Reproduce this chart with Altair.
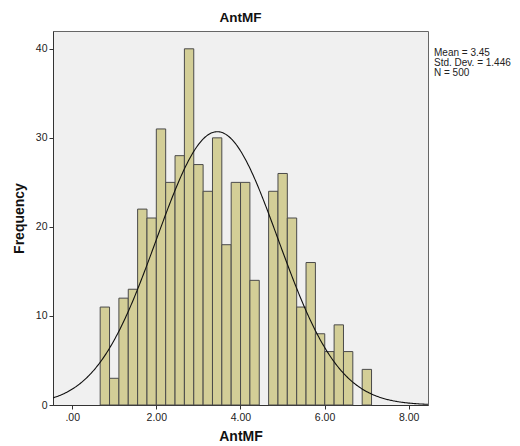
import altair as alt
import pandas as pd

# Histogram counts (29 equal-width bins)
bin_start = 0.665
bin_width = 0.2225
counts = [11, 3, 12, 13, 22, 21, 31, 25, 28, 40, 27, 24, 30, 18, 25, 25, 14, 0,
          24, 26, 21, 11, 16, 8, 6, 9, 6, 0, 4]

# Summary statistics shown on the chart
mean_val = 3.45
sd_val = 1.446
n_val = 500
stats_lines = ["Mean = 3.45", "Std. Dev. = 1.446", "N = 500"]

x_ticks = [0, 2, 4, 6, 8]
y_ticks = [0, 10, 20, 30, 40]

x_dom = [-0.457, 8.46]
y_dom = [0, 42.0]

bins = pd.DataFrame({
    "start": [bin_start + i * bin_width for i in range(len(counts))],
    "end": [bin_start + (i + 1) * bin_width for i in range(len(counts))],
    "count": counts,
})
bins = bins[bins["count"] > 0]

FONT = "Liberation Sans"
W, H = 375, 374

xscale = alt.Scale(domain=x_dom, nice=False, zero=False)
yscale = alt.Scale(domain=y_dom, nice=False)

xaxis = alt.Axis(title="AntMF", values=x_ticks,
                 labelExpr="datum.value == 0 ? '.00' : format(datum.value, '.2f')",
                 grid=False, tickSize=4, labelPadding=3, titlePadding=7,
                 domainColor="#333", tickColor="#333")
yaxis = alt.Axis(title="Frequency", values=y_ticks, grid=False, tickSize=4,
                 labelPadding=2, titlePadding=9, domainColor="#333", tickColor="#333")

bars = alt.Chart(bins).mark_bar(fill="#d3ce97", stroke="#4a4a4a", strokeWidth=1).encode(
    x=alt.X("start:Q", scale=xscale, axis=xaxis),
    x2="end:Q",
    y=alt.Y("count:Q", scale=yscale, axis=yaxis),
    y2=alt.datum(0),
)

curve = alt.Chart(alt.sequence(start=x_dom[0], stop=x_dom[1] + 0.01, step=0.02, as_="xv")).transform_calculate(
    yv=f"{n_val} * {bin_width} / ({sd_val} * sqrt(2 * PI)) * exp(-0.5 * pow((datum.xv - {mean_val}) / {sd_val}, 2))"
).mark_line(color="#111111", strokeWidth=1.1, clip=True).encode(
    x=alt.X("xv:Q", scale=xscale),
    y=alt.Y("yv:Q", scale=yscale),
)

stats = alt.Chart(pd.DataFrame({"t": [stats_lines]})).mark_text(
    align="left", baseline="top", font=FONT, fontSize=10, lineHeight=10, color="#222",
    clip=False,
).encode(
    x=alt.value(W + 6),
    y=alt.value(17),
    text="t",
)

chart = alt.layer(bars, curve, stats).properties(
    width=W, height=H,
    title=alt.TitleParams("AntMF", font=FONT, fontSize=13.5, fontWeight="bold",
                          anchor="middle", offset=7, color="#111"),
    autosize=alt.AutoSizeParams(type="none"),
    padding={"left": 45, "top": 23, "right": 84, "bottom": 41},
).configure_view(
    fill="#f0f0f0", stroke="#666666", strokeWidth=1
).configure_axis(
    labelFont=FONT, labelFontSize=10.5, labelColor="#222",
    titleFont=FONT, titleFontSize=14, titleFontWeight="bold", titleColor="#111",
)

chart.save("out.html", embed_options={"renderer": "svg", "actions": False})
